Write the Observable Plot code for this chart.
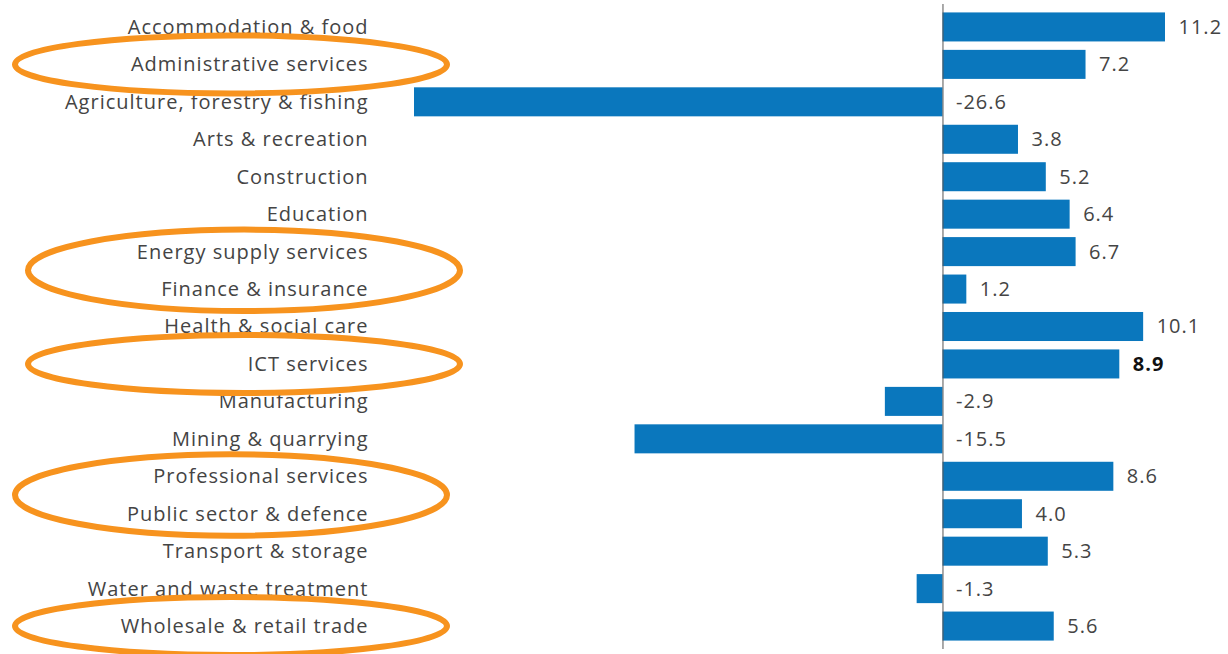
<!DOCTYPE html>
<html>
<head>
<meta charset="utf-8">
<script src="https://cdn.jsdelivr.net/npm/d3@7"></script>
<script src="https://cdn.jsdelivr.net/npm/@observablehq/plot@0.6"></script>
<style>
  html, body { margin: 0; padding: 0; background: #fff; }
  #chart { width: 1228px; height: 654px; overflow: hidden; }
  #chart svg text { letter-spacing: 1px; }
</style>
</head>
<body>
<div id="chart"></div>
<script>
const categories = [
  "Accommodation & food",
  "Administrative services",
  "Agriculture, forestry & fishing",
  "Arts & recreation",
  "Construction",
  "Education",
  "Energy supply services",
  "Finance & insurance",
  "Health & social care",
  "ICT services",
  "Manufacturing",
  "Mining & quarrying",
  "Professional services",
  "Public sector & defence",
  "Transport & storage",
  "Water and waste treatment",
  "Wholesale & retail trade"
];
const values = [11.2, 7.2, -26.6, 3.8, 5.2, 6.4, 6.7, 1.2, 10.1, 8.9, -2.9, -15.5, 8.6, 4.0, 5.3, -1.3, 5.6];
const valueLabels = ["11.2", "7.2", "-26.6", "3.8", "5.2", "6.4", "6.7", "1.2", "10.1", "8.9", "-2.9", "-15.5", "8.6", "4.0", "5.3", "-1.3", "5.6"];
const boldCategory = "ICT services";
const highlightGroups = [
  ["Administrative services"],
  ["Energy supply services", "Finance & insurance"],
  ["ICT services"],
  ["Professional services", "Public sector & defence"],
  ["Wholesale & retail trade"]
];

// styling for the highlight ellipses (pixel offsets, not data)
const ellipseStyle = { stroke: "#f7931e", width: 6, rx: 216, leftGap: 183, shifts: [0, 13, 13, 0, 0], padSingle: 29, padGroup: 22 };

const data = categories.map((c, i) => ({ category: c, value: values[i], label: valueLabels[i] }));

const plot = Plot.plot({
  width: 1228,
  height: 654,
  marginLeft: 414,
  marginRight: 63,
  marginTop: 4,
  marginBottom: 5,
  style: { fontFamily: "'Open Sans', sans-serif", fontSize: "20px", color: "#444", background: "#fff" },
  x: { domain: [-26.6, 11.2], axis: null },
  y: { domain: categories, padding: 0.225, round: false, tickSize: 0, tickPadding: 46, label: null },
  marks: [
    Plot.barX(data, { x: "value", y: "category", fill: "#0a77bd" }),
    Plot.ruleX([0], { stroke: "#555", strokeWidth: 1 }),
    Plot.text(data.filter(d => d.category !== boldCategory), {
      x: d => Math.max(d.value, 0), y: "category", text: "label",
      textAnchor: "start", dx: 13, fill: "#444", fontSize: 20
    }),
    Plot.text(data.filter(d => d.category === boldCategory), {
      x: d => Math.max(d.value, 0), y: "category", text: "label",
      textAnchor: "start", dx: 13, fill: "#111", fontSize: 20, fontWeight: "bold"
    })
  ]
});

document.getElementById("chart").appendChild(plot);

// highlight ellipses positioned with the plot's own y scale
const ys = plot.scale("y");
const bw = ys.bandwidth;
const g = d3.select(plot).append("g").attr("fill", "none")
  .attr("stroke", ellipseStyle.stroke).attr("stroke-width", ellipseStyle.width);
highlightGroups.forEach((grp, i) => {
  const centers = grp.map(c => ys.apply(c) + bw / 2);
  const cy = d3.mean(centers);
  const span = d3.max(centers) - d3.min(centers);
  const ry = grp.length > 1 ? span / 2 + ellipseStyle.padGroup : ellipseStyle.padSingle;
  const cx = 414 - ellipseStyle.leftGap + ellipseStyle.shifts[i];
  g.append("ellipse").attr("cx", cx).attr("cy", cy).attr("rx", ellipseStyle.rx).attr("ry", ry);
});
</script>
</body>
</html>
